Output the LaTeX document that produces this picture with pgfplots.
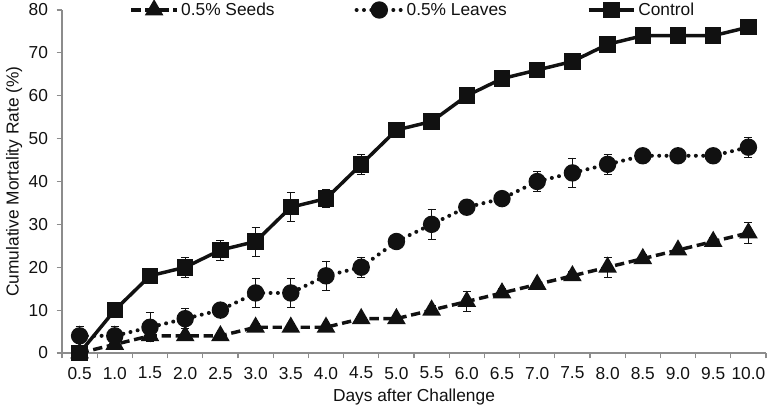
\documentclass[border=0pt]{standalone}
\usepackage{pgfplots}
\pgfplotsset{compat=1.18}
\usepackage{fontspec}
\setmainfont{Liberation Sans}
\definecolor{axgray}{HTML}{8C8C8C}
\definecolor{ink}{HTML}{111111}
\pgfplotstableread{
x y e
0 0 0
1 2 1
2 4 0
3 4 0
4 4 0
5 6 0.8
6 6 0.8
7 6 0.8
8 8 0
9 8 0
10 10 1
11 12 2.4
12 14 1
13 16 0
14 18 1
15 20 2.4
16 22 1
17 24 0
18 26 1
19 28 2.4
}\seeds
\pgfplotstableread{
x y e
0 4 2.3
1 4 2.3
2 6 3.4
3 8 2.3
4 10 0
5 14 3.4
6 14 3.4
7 18 3.4
8 20 2.3
9 26 0
10 30 3.5
11 34 0
12 36 0
13 40 2.3
14 42 3.4
15 44 2.3
16 46 0
17 46 0
18 46 0
19 48 2.3
}\leaves
\pgfplotstableread{
x y e
0 0 0
1 10 0
2 18 0
3 20 2.3
4 24 2.3
5 26 3.4
6 34 3.4
7 36 2.1
8 44 2.3
9 52 0
10 54 0
11 60 0
12 64 0
13 66 0
14 68 0
15 72 0
16 74 0
17 74 0
18 74 0
19 76 0
}\control
\begin{document}
\begin{tikzpicture}
\begin{axis}[
  name=a,
  scale only axis, width=528pt, height=257.25pt,
  xmin=-0.5, xmax=19.5, ymin=0, ymax=80,
  axis lines*=left,
  axis line style={draw=axgray, line width=0.8pt},
  every tick/.style={draw=axgray, line width=0.8pt},
  tick align=outside,
  xtick={0,...,19},
  xticklabels={0.5,1.0,1.5,2.0,2.5,3.0,3.5,4.0,4.5,5.0,5.5,6.0,6.5,7.0,7.5,8.0,8.5,9.0,9.5,10.0},
  major x tick style={draw=none},
  minor xtick={-0.5,0.5,...,19.5},
  minor tick length=4pt,
  ytick={0,10,...,80},
  major tick length=4pt,
  /pgf/number format/assume math mode=true,
  tick label style={font=\fontsize{13}{15}\selectfont, text=ink},
  xticklabel style={yshift=-3pt},
  yticklabel style={xshift=-3pt},
  label style={font=\fontsize{13}{15}\selectfont, text=ink},
  xlabel={Days after Challenge},
  ylabel={Cumulative Mortality Rate (\%)},
  xlabel style={yshift=0pt},
  ylabel style={yshift=-2pt},
  clip=false,
  legend columns=3,
  legend style={draw=none, fill=none, at={(axis description cs:0.499,1.0)}, anchor=center,
    font=\fontsize{13}{15}\selectfont, text=ink,
    /tikz/every even column/.append style={column sep=58pt}},
  legend image code/.code={\draw[mark repeat=2,mark phase=2] plot coordinates {(0pt,0pt)(17pt,0pt)(34pt,0pt)};},
  error bars/y dir=both,
  error bars/y explicit,
  error bars/error bar style={solid, line width=0.6pt, ink},
  error bars/error mark options={rotate=90, mark size=3pt, solid, line width=0.6pt, ink},
]
\addplot[ink, line width=2.6pt, dash pattern=on 7pt off 3.5pt, mark=triangle*, mark size=5.5pt, mark options={solid}]
  table[x=x, y=y, y error=e]{\seeds};
\addlegendentry{0.5\% Seeds}
\addplot[ink, line width=3pt, line cap=round, dash pattern=on 0pt off 5.5pt, mark=*, mark size=5pt, mark options={solid}]
  table[x=x, y=y, y error=e]{\leaves};
\addlegendentry{0.5\% Leaves}
\addplot[ink, line width=2.6pt, mark=square*, mark size=4.9pt, mark options={solid}]
  table[x=x, y=y, y error=e]{\control};
\addlegendentry{Control}
\end{axis}
\pgfresetboundingbox
\path[use as bounding box] ([xshift=-46.5pt,yshift=-43.5pt]a.south west) rectangle ([xshift=0.75pt,yshift=7.5pt]a.north east);
\end{tikzpicture}
\end{document}
